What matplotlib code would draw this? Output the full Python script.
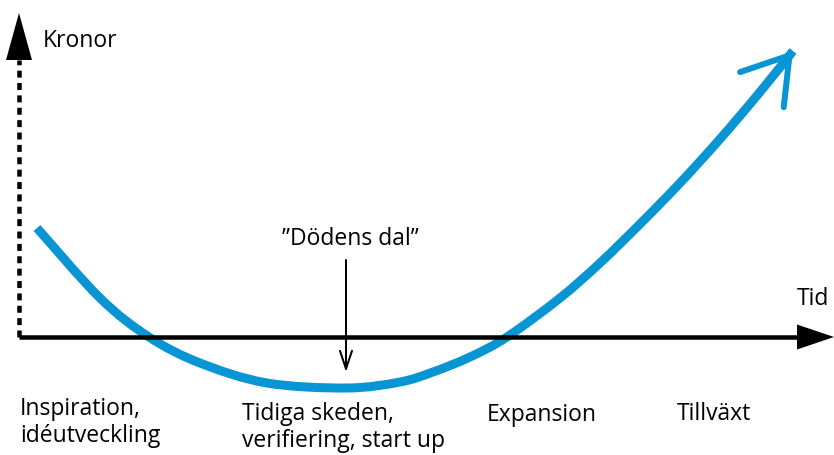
import matplotlib.pyplot as plt
from matplotlib.path import Path
from matplotlib.patches import PathPatch

# concept curve: time vs money ("valley of death")
tid = [18, 81, 130, 181, 248, 328, 381, 414, 451, 488, 541, 581, 621, 661, 701, 741, 774]
kronor = [109, 39, 0, -26, -46, -51, -45, -35, -20, 0, 39, 74, 113, 154, 198, 245, 286]

stages = ['Inspiration,\nidéutveckling', 'Tidiga skeden,\nverifiering, start up', 'Expansion', 'Tillväxt']
stage_x = [1, 223, 468, 658]
stage_y = [-78, -83, -84, -83]

dal_x = 327
dal_top = 77
dal_bottom = -35

x_end = 815
y_end = 324

blue = '#0795d3'
px = 72 / 100  # pixels -> points at dpi 100
fs = 16.5

plt.rcParams['font.family'] = ['Open Sans', 'DejaVu Sans']

fig = plt.figure(figsize=(8.34, 4.55), dpi=100)
ax = fig.add_axes([0, 0, 1, 1])
ax.set_xlim(-19, 815)
ax.set_ylim(-118, 337)
ax.axis('off')

# x axis, solid with filled head
ax.plot([0, x_end - 37], [0, 0], color='black', lw=4.5 * px, solid_capstyle='butt')
ax.annotate('', xy=(x_end, 0), xytext=(x_end - 37, 0),
            arrowprops=dict(arrowstyle='-|>,head_length=%f,head_width=%f' % (37 * px, 12.5 * px),
                            fc='black', ec='none', lw=0, shrinkA=0, shrinkB=0, mutation_scale=1))

# y axis, dashed with filled head
ax.plot([0, 0], [0, y_end - 47], color='black', lw=4.5 * px, ls=(0, (1.55, 1.2)), dash_capstyle='butt')
ax.annotate('', xy=(0, y_end), xytext=(0, y_end - 47),
            arrowprops=dict(arrowstyle='-|>,head_length=%f,head_width=%f' % (47 * px, 13 * px),
                            fc='black', ec='none', lw=0, shrinkA=0, shrinkB=0, mutation_scale=1))

ax.text(24, 290, 'Kronor', fontsize=fs, va='baseline', ha='left')
ax.text(778, 32, 'Tid', fontsize=fs, va='baseline', ha='left')

# the curve, smoothed as bezier segments through the points
pts = list(zip(tid, kronor))
verts = [pts[0]]
codes = [Path.MOVETO]
n = len(pts)
for i in range(n - 1):
    p0 = pts[max(i - 1, 0)]
    p1 = pts[i]
    p2 = pts[i + 1]
    p3 = pts[min(i + 2, n - 1)]
    c1 = (p1[0] + (p2[0] - p0[0]) / 6, p1[1] + (p2[1] - p0[1]) / 6)
    c2 = (p2[0] - (p3[0] - p1[0]) / 6, p2[1] - (p3[1] - p1[1]) / 6)
    verts += [c1, c2, p2]
    codes += [Path.CURVE4] * 3
ax.add_patch(PathPatch(Path(verts, codes), fill=False, ec=blue, lw=9 * px,
                       capstyle='butt', joinstyle='round'))
ax.annotate('', xy=(tid[-1], kronor[-1]), xytext=(tid[-2], kronor[-2]),
            arrowprops=dict(arrowstyle='->,head_length=%f,head_width=%f' % (44 * px, 28 * px),
                            color=blue, lw=6 * px, shrinkA=0, shrinkB=0, mutation_scale=1,
                            capstyle='round', joinstyle='round'))

# valley of death pointer
ax.text(dal_x + 4, 92, '\u201dDödens dal\u201d', fontsize=fs, ha='center', va='baseline')
ax.annotate('', xy=(dal_x, dal_bottom), xytext=(dal_x, dal_top),
            arrowprops=dict(arrowstyle='->,head_length=%f,head_width=%f' % (18 * px, 6 * px),
                            color='black', lw=2 * px, shrinkA=0, shrinkB=0, mutation_scale=1))

for s, x, y in zip(stages, stage_x, stage_y):
    for i, line in enumerate(s.split('\n')):
        ax.text(x, y - 27 * i, line, fontsize=fs, ha='left', va='baseline')

fig.savefig('out.png', dpi=100)
